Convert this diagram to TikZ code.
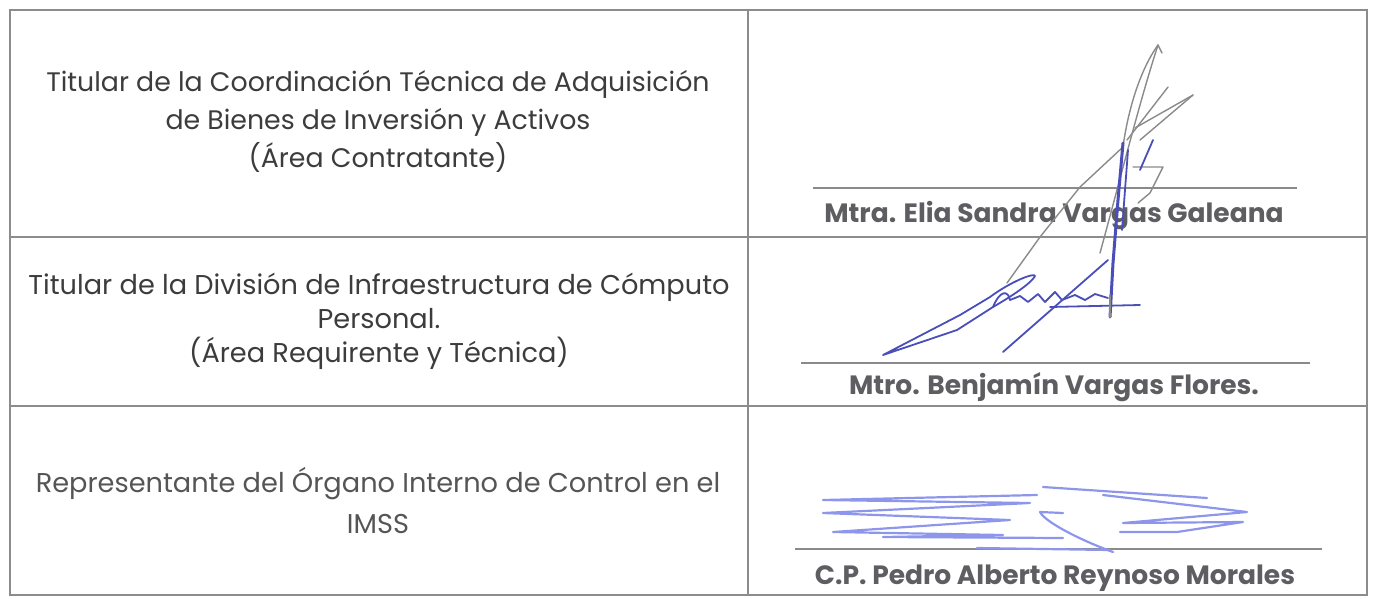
\documentclass[tikz,border=0pt]{standalone}
\usepackage{fontspec}
\setmainfont{Poppins}
\definecolor{rule}{HTML}{8C8C8C}
\definecolor{txt}{HTML}{3C3C3C}
\definecolor{txtlight}{HTML}{555555}
\definecolor{namec}{HTML}{5E5E62}
\definecolor{siggray}{HTML}{8A8A8A}
\definecolor{sigblue}{HTML}{4A4EB8}
\definecolor{siglav}{HTML}{8E96EC}
\begin{document}
\begin{tikzpicture}[x=1pt,y=-1pt,
  tableline/.style={draw=rule,line width=2pt},
  roletext/.style={align=center,text=txt,font=\fontsize{26.8}{38}\selectfont,inner sep=0pt},
  nametext/.style={text=namec,font=\fontsize{26.5}{30}\selectfont\bfseries,inner sep=0pt},
  sigline/.style={draw=siggray,line width=1.3pt},
  inkgray/.style={draw=siggray,line width=1.4pt,line cap=round,line join=round},
  inkblue/.style={draw=sigblue,line width=1.8pt,line cap=round,line join=round},
  inklav/.style={draw=siglav,line width=2.2pt,line cap=round,line join=round}]
\useasboundingbox (0,0) rectangle (1373,598);
% table frame
\coordinate (tl) at (10,10);
\coordinate (tr) at (1367,10);
\coordinate (bl) at (10,595);
\coordinate (br) at (1367,595);
\coordinate (ct) at (748,10);
\coordinate (cb) at (748,595);
\coordinate (r1l) at (10,237);
\coordinate (r1r) at (1367,237);
\coordinate (r2l) at (10,406);
\coordinate (r2r) at (1367,406);
\draw[tableline] (tl) rectangle (br);
\draw[tableline] (ct) -- (cb);
\draw[tableline] (r1l) -- (r1r);
\draw[tableline] (r2l) -- (r2r);
% role texts
\node[roletext] (role1) at (378,121) {Titular de la Coordinación Técnica de Adquisición\\de Bienes de Inversión y Activos\\(Área Contratante)};
\node[roletext,font=\fontsize{27.2}{34}\selectfont] (role2) at (379,321) {Titular de la División de Infraestructura de Cómputo\\Personal.\\(Área Requirente y Técnica)};
\node[roletext,text=txtlight,font=\fontsize{27.2}{41}\selectfont] (role3) at (378,500) {Representante del Órgano Interno de Control en el\\IMSS};
% signature lines
\coordinate (s1a) at (813,188); \coordinate (s1b) at (1297,188);
\coordinate (s2a) at (801,363); \coordinate (s2b) at (1310,363);
\coordinate (s3a) at (795,549); \coordinate (s3b) at (1322,549);
\draw[sigline] (s1a) -- (s1b);
\draw[sigline] (s2a) -- (s2b);
\draw[sigline] (s3a) -- (s3b);
% names
\node[nametext] (name1) at (1054,216) {Mtra. Elia Sandra Vargas Galeana};
\node[nametext] (name2) at (1054,387) {Mtro. Benjamín Vargas Flores.};
\node[nametext] (name3) at (1055,578) {C.P. Pedro Alberto Reynoso Morales};
% signature 1 (gray strokes)
\draw[inkgray] (1162,53) -- (1158,45) .. controls (1140,70) and (1128,110) .. (1123,147) -- (1080,187) -- (1040,237) -- (1007,283);
\draw[inkgray] (1158,45) .. controls (1140,100) and (1120,180) .. (1100,253);
\draw[inkgray] (1168,87) -- (1127,140);
\draw[inkgray] (1193,95) -- (1140,140);
\draw[inkgray] (1193,95) -- (1135,128);
\draw[inkgray] (1133,167) -- (1163,167) -- (1150,193) -- (1138,203);
% signature 1 (blue)
\draw[inkblue,line width=3pt] (1123,143) -- (1118,200) -- (1113,263) -- (1110,317);
\draw[inkblue] (1128,150) -- (1122,230);
\draw[inkblue] (1153,140) -- (1140,170);
% signature 2
\draw[inkblue] (883,355) -- (960,315) -- (990,297) .. controls (1010,282) and (1035,272) .. (1035,276) .. controls (1030,285) and (1005,300) .. (993,307) -- (957,330) -- (883,355);
\draw[inkblue] (993,307) .. controls (1000,290) and (1008,290) .. (1010,300) -- (1020,296) -- (1028,302) -- (1038,294) -- (1045,302) -- (1055,292) -- (1062,300) -- (1075,295) -- (1085,300) -- (1095,294) -- (1108,298);
\draw[inkblue] (1050,307) -- (1140,305);
\draw[inkblue] (1108,260) -- (1003,352);
\draw[inkgray] (1110,295) -- (1110,317);
% signature 3
\draw[inklav] (1037,495) -- (823,500) -- (1030,503) -- (823,513) -- (1010,520) -- (833,532) -- (1003,535) -- (883,537) -- (1063,538);
\draw[inklav] (1043,487) -- (1207,498);
\draw[inklav] (1103,495) -- (1247,512) -- (1123,523) -- (1243,522) -- (1177,532) -- (1120,532);
\draw[inklav] (1063,513) -- (1040,512) .. controls (1045,522) and (1080,540) .. (1113,552);
\draw[inklav] (977,548) -- (1110,550);
\end{tikzpicture}
\end{document}
